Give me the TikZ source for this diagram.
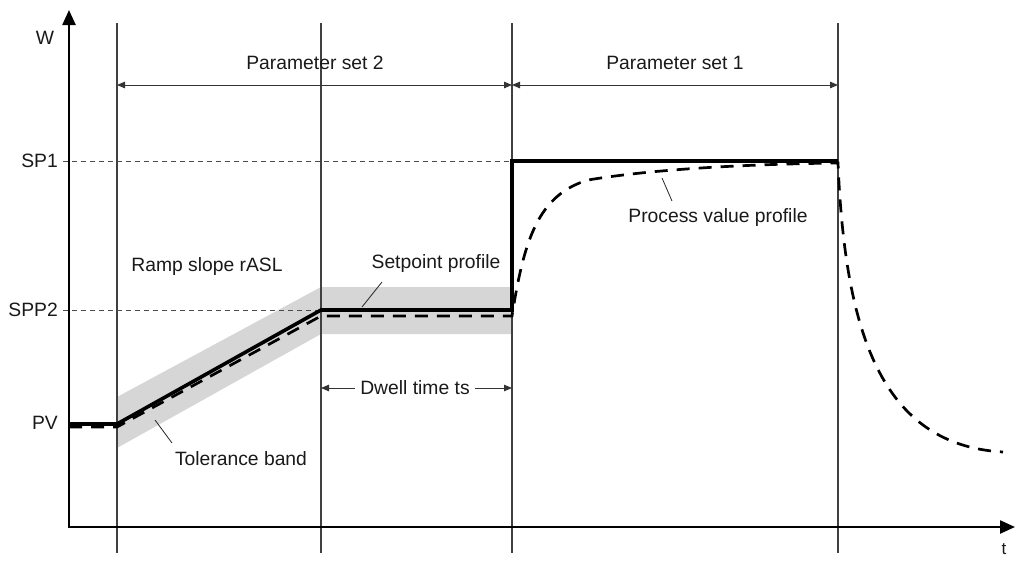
\documentclass[tikz,border=0pt]{standalone}
\usepackage{fontspec}
\setmainfont{Liberation Sans}
\usetikzlibrary{arrows.meta}
\begin{document}
\begin{tikzpicture}[x=1pt,y=-1pt,
  lbl/.style={font=\fontsize{19.3}{22}\selectfont, inner sep=0pt, text=black!90},
  vline/.style={line width=1.1pt, draw=black!75},
  axis/.style={line width=2.4pt, -{Triangle[length=15pt,width=13pt]}},
  dimline/.style={line width=1pt, draw=black!80, {Triangle[length=8pt,width=6.5pt]}-{Triangle[length=8pt,width=6.5pt]}},
  dimone/.style={line width=1pt, draw=black!80, -{Triangle[length=8pt,width=6.5pt]}},
  sp/.style={line width=3.6pt, line join=miter},
  pv/.style={line width=2.7pt, dash pattern=on 13pt off 9pt},
  refline/.style={line width=0.8pt, draw=black!70, dash pattern=on 5pt off 4pt},
  leader/.style={line width=0.8pt, draw=black!85},
  band/.style={fill=black!16, draw=none}]
\useasboundingbox (0,0) rectangle (1015,560);

% tolerance band
\fill[band] (117,397) -- (321,287) -- (512,287) -- (512,334) -- (321,334) -- (117,448) -- cycle;

% vertical lines
\foreach \n/\x in {a/117,b/321,c/512,d/838}{
  \coordinate (\n top) at (\x,23);
  \coordinate (\n bot) at (\x,553);
  \draw[vline] (\n top) -- (\n bot);
}

% axes
\coordinate (O) at (69,527);
\coordinate (Ytip) at (69,10);
\coordinate (Xtip) at (1015,527);
\draw[axis] (69,528.2) -- (Ytip);
\draw[axis] (67.8,527) -- (Xtip);
\node[lbl] (W) at (45,38) {W};
\node[lbl, anchor=south, font=\fontsize{17}{20}\selectfont] (T) at (1004,555) {t};

% level labels and reference lines
\node[lbl, anchor=east] (SP1) at (58,161) {SP1};
\node[lbl, anchor=east] (SPP2) at (58,310) {SPP2};
\node[lbl, anchor=east] (PV) at (58,423) {PV};
\coordinate (sp1end) at (512,161);
\coordinate (spp2end) at (321,310);
\draw[refline] (SP1.east) ++(5,0) -- (sp1end);
\draw[refline] (SPP2.east) ++(5,0) -- (spp2end);

% parameter set arrows
\coordinate (pa) at (117,85);
\coordinate (pb) at (512,85);
\coordinate (pc) at (838,85);
\draw[dimline] (pa) -- (pb);
\draw[dimline] (pb) -- (pc);
\node[lbl] (ps2) at (315,63) {Parameter set 2};
\node[lbl] (ps1) at (675,63) {Parameter set 1};

% process value (dashed)
\coordinate (pv0) at (69,427);
\coordinate (pv1) at (117,427);
\coordinate (pv2) at (321,316);
\coordinate (pv3) at (512,316);
\coordinate (pv4) at (588,180);
\coordinate (pv5) at (838,163);
\coordinate (pv6) at (1003,452);
\draw[pv] (pv0) -- (pv1) -- (pv2) -- (pv3)
  .. controls (524,240) and (538,195) .. (pv4)
  .. controls (660,168) and (760,164) .. (pv5)
  .. controls (845,330) and (880,445) .. (pv6);

% setpoint profile (solid)
\coordinate (s0) at (69,424);
\coordinate (s1) at (117,424);
\coordinate (s2) at (321,310);
\coordinate (s3) at (512,310);
\coordinate (s4) at (512,161);
\coordinate (s5) at (838,161);
\draw[sp] (s0) -- (s1) -- (s2) -- (s3) -- (s4) -- (s5);

% labels with leaders
\node[lbl] (ramp) at (207,267) {Ramp slope rASL};
\node[lbl] (spl) at (436,264) {Setpoint profile};
\coordinate (spl1) at (382,282);
\coordinate (spl2) at (362,307);
\draw[leader] (spl1) -- (spl2);
\node[lbl] (tol) at (241,459) {Tolerance band};
\coordinate (tol1) at (172,443);
\coordinate (tol2) at (155,420);
\draw[leader] (tol1) -- (tol2);
\node[lbl] (pvl) at (718,218) {Process value profile};
\coordinate (pvl1) at (672,201);
\coordinate (pvl2) at (662,178);
\draw[leader] (pvl1) -- (pvl2);

% dwell time
\node[lbl] (dwell) at (415,388) {Dwell time ts};
\coordinate (dw1) at (321,388);
\coordinate (dw2) at (512,388);
\draw[dimone] (dwell.west) ++(-5,0) -- (dw1);
\draw[dimone] (dwell.east) ++(5,0) -- (dw2);
\end{tikzpicture}
\end{document}
